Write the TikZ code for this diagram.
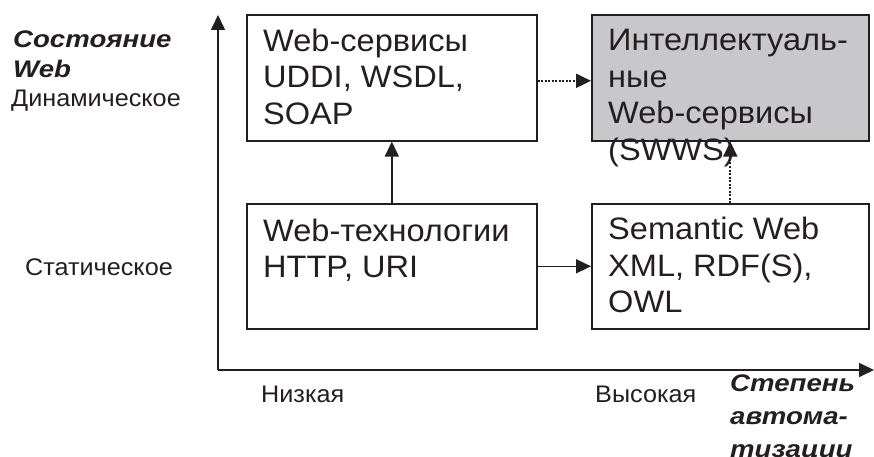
\documentclass[tikz,border=0pt]{standalone}
\usepackage{fontspec}
\setmainfont{Liberation Sans}[FakeStretch=1.05]
\newfontfamily\widebi{Liberation Sans}[FakeStretch=1.15,UprightFont=*,BoldFont=* Bold Italic,ItalicFont=* Bold Italic,BoldItalicFont=* Bold Italic]
\usetikzlibrary{arrows.meta,calc}
\definecolor{ink}{RGB}{35,31,32}
\definecolor{boxgray}{RGB}{200,200,202}
\begin{document}
\begin{tikzpicture}[x=1pt,y=-1pt,
  box/.style={draw=ink,line width=1.6pt,minimum width=290pt,minimum height=126pt,inner sep=0pt,anchor=north west},
  btext/.style={anchor=north west,inner sep=0pt,align=left,text=ink,font=\fontsize{31}{36.5}\selectfont},
  lbl/.style={anchor=base west,inner sep=0pt,text=ink,font=\fontsize{24}{30}\selectfont},
  ttl/.style={anchor=north west,inner sep=0pt,align=left,text=ink,font=\widebi\fontsize{24}{30}\selectfont\bfseries\itshape},
  arr/.style={draw=ink,line width=1.6pt,-{Triangle[length=15pt,width=14pt]}},
  darr/.style={draw=ink,line width=2pt,dash pattern=on 2pt off 1.5pt,-{Triangle[length=15pt,width=14pt]}}]
\useasboundingbox (0,0) rectangle (874,457);

% axes
\coordinate (o) at (218,370);
\coordinate (ytip) at (218,15);
\coordinate (xtip) at (874,370);
\draw[arr] (o) -- (ytip);
\draw[arr] (o) -- (xtip);

% boxes
\node[box] (b1) at (246,14) {};
\node[box,fill=boxgray,minimum width=277pt] (b2) at (591,14) {};
\node[box,minimum height=125pt] (b3) at (246,203) {};
\node[box,minimum width=277pt,minimum height=125pt] (b4) at (591,203) {};

% box texts
\node[btext] (t1) at (263,28.5) {Web-сервисы\\UDDI, WSDL,\\SOAP};
\node[btext] (t2) at (608,29) {Интеллектуаль-\\ные\\Web-сервисы\\(SWWS)};
\node[btext] (t3) at (263,218.5) {Web-технологии\\HTTP, URI};
\node[btext] (t4) at (608,217) {Semantic Web\\XML, RDF(S),\\OWL};

% connectors
\draw[arr] (b3.north) -- (b1.south);
\draw[arr] (b3.east) -- (b4.west);
\draw[darr] ($(b1.east)+(0,3)$) -- ($(b2.west)+(0,3)$);
\draw[darr] (b4.north) -- (b2.south);

% axis labels
\node[ttl] (ylab) at (13,31) {Состояние\\Web};
\node[lbl,fill=white,inner ysep=12.5pt] (dyn) at (11,107) {Динамическое};
\node[lbl] (stat) at (25,275) {Статическое};
\node[lbl] (low) at (261,402) {Низкая};
\node[lbl] (high) at (595,402) {Высокая};
\node[ttl,font=\widebi\fontsize{24}{33}\selectfont\bfseries\itshape] (xlab) at (730,375) {Степень\\автома-\\тизации};
\end{tikzpicture}
\end{document}
